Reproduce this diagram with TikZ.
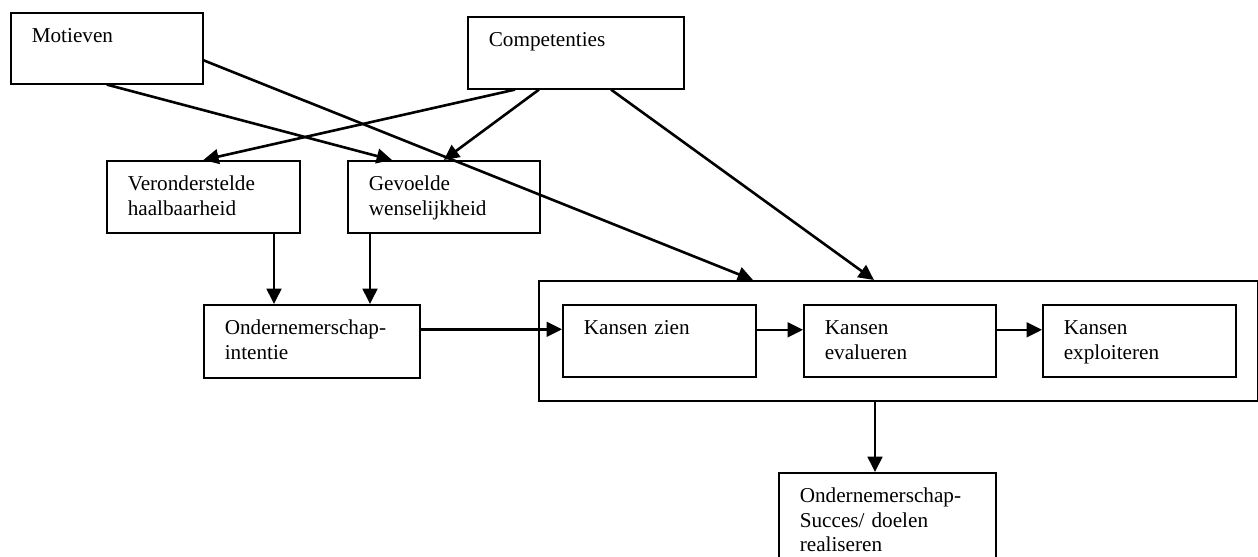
\documentclass[tikz,border=0pt]{standalone}
\usepackage{fontspec}
\setmainfont{Liberation Serif}
\usetikzlibrary{arrows.meta}
\newlength{\px}
\setlength{\px}{0.75pt}

\begin{document}
\begin{tikzpicture}[x=0.75pt, y=-0.75pt,
		>={Triangle[length=11.5pt, width=11pt]},
		blok/.style={draw, line width=1.6\px, anchor=north west, align=left,
			inner xsep=21\px, inner ysep=0pt, text width=151\px,
			text height=30\px, text depth=42\px,
			font=\fontsize{15.9}{18.4}\selectfont},
		pijl/.style={->, line width=1.95pt}]
	\useasboundingbox (0,0) rectangle (1258,557);
		% bovenste rij
		\node [blok, text width=150\px, text depth=41\px] (motieven) at (10,12)
			{Motieven};
		\node [blok, text width=174\px] (competenties) at (467,16)
			{Competenties};
		% middelste rij
		\node [blok] (veronderstelde) at (106,160)
			{Veronderstelde\\ haalbaarheid};
		\node [blok, text width=150\px] (gevoelde) at (347,160)
			{Gevoelde\\ wenselijkheid};
		\node [blok, text width=174\px, text depth=43\px] (intentie) at (203,304)
			{Ondernemerschap-\\ intentie};
		% kaderblok met de kansen
		\node [draw, line width=1.6\px, anchor=north west, inner sep=0pt,
			minimum width=719\px, minimum height=120\px] (kansen) at (538,280) {};
		\node [blok] (zien) at (562,304)
			{Kansen zien};
		\node [blok, text width=150\px] (evalueren) at (803,304)
			{Kansen\\ evalueren};
		\node [blok] (exploiteren) at (1042,304)
			{Kansen\\ exploiteren};
		% onderaan
		\node [blok, text width=175\px, text depth=70\px] (succes) at (778,472)
			{Ondernemerschap-\\ Succes/ doelen\\ realiseren};
		\draw [pijl] (motieven.south) to
			([xshift=45\px]gevoelde.north west);
		\draw [pijl] ([yshift=-12\px]motieven.east) to
			([xshift=215\px]kansen.north west);
		\draw [pijl] ([xshift=48\px]competenties.south west) to
			(veronderstelde.north);
		\draw [pijl] ([xshift=72\px]competenties.south west) to
			(gevoelde.north);
		\draw [pijl] ([xshift=144\px]competenties.south west) to
			([xshift=336\px]kansen.north west);
		\draw [pijl] ([xshift=168\px]veronderstelde.south west) to
			([xshift=168\px]veronderstelde.south west |- intentie.north);
		\draw [pijl] ([xshift=23\px]gevoelde.south west) to
			([xshift=23\px]gevoelde.south west |- intentie.north);
		\draw [pijl] ([yshift=12\px]intentie.east) to
			([yshift=12\px]intentie.east -| zien.west);
		\draw [pijl] ([yshift=11\px]zien.east) to
			([yshift=11\px]zien.east -| evalueren.west);
		\draw [pijl] ([yshift=11\px]evalueren.east) to
			([yshift=11\px]evalueren.east -| exploiteren.west);
		\draw [pijl] ([xshift=337\px]kansen.south west) to
			([xshift=337\px]kansen.south west |- succes.north);
	\end{tikzpicture}
\end{document}
